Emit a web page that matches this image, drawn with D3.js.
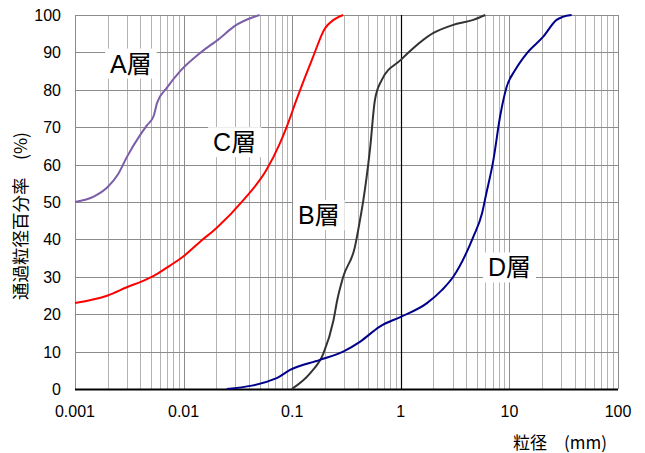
<!DOCTYPE html>
<html>
<head>
<meta charset="utf-8">
<script src="https://cdn.jsdelivr.net/npm/d3@7"></script>
<style>
  body { margin: 0; background: #fff; }
  text { font-family: "Liberation Sans", Arial, sans-serif; }
</style>
</head>
<body>
<svg id="chart" width="645" height="453"></svg>
<script>
// grading curves, [particle size mm, % passing]
var layerA = [[0.001,50],[0.0015,51.5],[0.002,54],[0.0025,57.5],[0.003,62],[0.004,68],[0.0046,70.5],
  [0.0053,73],[0.0057,76.5],[0.007,80.5],[0.0093,85],[0.014,89.7],[0.0216,93.8],[0.029,96.9],[0.05,100]];
var layerB = [[0.099,0],[0.146,4.2],[0.194,9.5],[0.24,18.4],[0.26,23.8],[0.295,30],[0.378,38],[0.42,45],
  [0.452,50.5],[0.52,64],[0.578,77.3],[0.667,82.6],[1,88],[2,95.2],[3,97.3],[4.65,98.7],[6,100]];
var layerC = [[0.001,23],[0.002,25],[0.003,27.2],[0.0043,29],[0.0055,30.5],[0.0075,33],[0.01,35.5],
  [0.0142,39.4],[0.02,43],[0.0355,50.5],[0.058,58.6],[0.077,65.7],[0.089,70.1],[0.11,77.5],
  [0.156,88.9],[0.2,96.4],[0.24,98.7],[0.295,100]];
var layerD = [[0.025,0],[0.072,2.9],[0.0955,5.1],[0.18,7.8],[0.295,10],[0.42,12.6],[0.64,16.7],[1,19.3],
  [1.73,22.9],[2.4,26.5],[3.04,30],[4.65,40.7],[5.6,47],[6.1,52],[7.12,61.2],[8.2,72.8],[9.44,80.8],[11.3,85.3],
  [14.4,89.7],[20.5,94.2],[27.2,98.7],[31,99.5],[37.4,100]];

var xTicks = [0.001, 0.01, 0.1, 1, 10, 100];
var xTickLabels = ["0.001", "0.01", "0.1", "1", "10", "100"];
var yTicks = [0, 10, 20, 30, 40, 50, 60, 70, 80, 90, 100];

var series = [
  {name: "A層", data: layerA, color: "#7b5ea7", lx: 0.0021, ly: 87},
  {name: "C層", data: layerC, color: "#ff0000", lx: 0.0187, ly: 66},
  {name: "B層", data: layerB, color: "#333333", lx: 0.113, ly: 46.5},
  {name: "D層", data: layerD, color: "#00008b", lx: 6.35, ly: 32.5}
];

var svg = d3.select("#chart");
var pL = 75, pR = 618, pT = 15, pB = 389;

var x = d3.scaleLog().domain([0.001, 100]).range([pL, pR]);
var y = d3.scaleLinear().domain([0, 100]).range([pB, pT]);

// minor vertical grid
var minor = [];
for (var e = -3; e < 2; e++) {
  for (var k = 2; k <= 9; k++) minor.push(k * Math.pow(10, e));
}
svg.append("g").selectAll("line").data(minor).enter().append("line")
  .attr("x1", function(d) { return Math.round(x(d)) + 0.5; })
  .attr("x2", function(d) { return Math.round(x(d)) + 0.5; })
  .attr("y1", pT).attr("y2", pB)
  .attr("stroke", "#b4b4b4").attr("stroke-width", 1);

svg.append("g").selectAll("line").data(xTicks).enter().append("line")
  .attr("x1", function(d) { return Math.round(x(d)) + 0.5; })
  .attr("x2", function(d) { return Math.round(x(d)) + 0.5; })
  .attr("y1", pT).attr("y2", pB)
  .attr("stroke", "#8c8c8c").attr("stroke-width", 1);

svg.append("g").selectAll("line").data(yTicks).enter().append("line")
  .attr("x1", pL).attr("x2", pR)
  .attr("y1", function(d) { return Math.round(y(d)) + 0.5; })
  .attr("y2", function(d) { return Math.round(y(d)) + 0.5; })
  .attr("stroke", "#8c8c8c").attr("stroke-width", 1);

// heavy line at 1 mm and bottom axis
svg.append("line")
  .attr("x1", Math.round(x(1)) + 0.5).attr("x2", Math.round(x(1)) + 0.5)
  .attr("y1", pT).attr("y2", pB)
  .attr("stroke", "#000").attr("stroke-width", 1.2);
svg.append("line")
  .attr("x1", pL).attr("x2", pR)
  .attr("y1", pB + 0.5).attr("y2", pB + 0.5)
  .attr("stroke", "#000").attr("stroke-width", 2);

// curves
var line = d3.line()
  .x(function(d) { return x(d[0]); })
  .y(function(d) { return y(d[1]); })
  .curve(d3.curveMonotoneX);

svg.append("g").selectAll("path").data(series).enter().append("path")
  .attr("d", function(s) { return line(s.data); })
  .attr("fill", "none")
  .attr("stroke", function(s) { return s.color; })
  .attr("stroke-width", 2);

// labels with white boxes
series.forEach(function(s) {
  var g = svg.append("g");
  var t = g.append("text")
    .attr("x", x(s.lx)).attr("y", y(s.ly))
    .attr("text-anchor", "start")
    .attr("dominant-baseline", "central")
    .style("font-family", "'Liberation Sans', 'Noto Sans CJK JP', sans-serif")
    .style("font-size", "25px")
    .attr("fill", "#000")
    .text(s.name);
  var b = t.node().getBBox();
  g.insert("rect", "text")
    .attr("x", b.x - 5).attr("y", b.y - 1)
    .attr("width", b.width + 10).attr("height", b.height + 2)
    .attr("fill", "#fff");
});

// tick labels
svg.append("g").selectAll("text").data(yTicks).enter().append("text")
  .attr("x", 61).attr("y", function(d) { return y(d) + 6; })
  .attr("text-anchor", "end")
  .style("font-size", "16px")
  .text(function(d) { return d; });

svg.append("g").selectAll("text").data(xTicks).enter().append("text")
  .attr("x", function(d) { return x(d); }).attr("y", 417)
  .attr("text-anchor", "middle")
  .style("font-size", "16px")
  .text(function(d, i) { return xTickLabels[i]; });

// axis titles
svg.append("text")
  .attr("transform", "translate(27,216) rotate(-90)")
  .attr("text-anchor", "middle")
  .style("font-family", "'Noto Sans CJK JP', sans-serif")
  .style("font-size", "17.5px")
  .text("通過粒径百分率　(%)");

svg.append("text")
  .attr("x", 607).attr("y", 449)
  .attr("text-anchor", "end")
  .style("font-family", "'Noto Sans CJK JP', sans-serif")
  .style("font-size", "17px")
  .text("粒径　(mm)");
</script>
</body>
</html>
